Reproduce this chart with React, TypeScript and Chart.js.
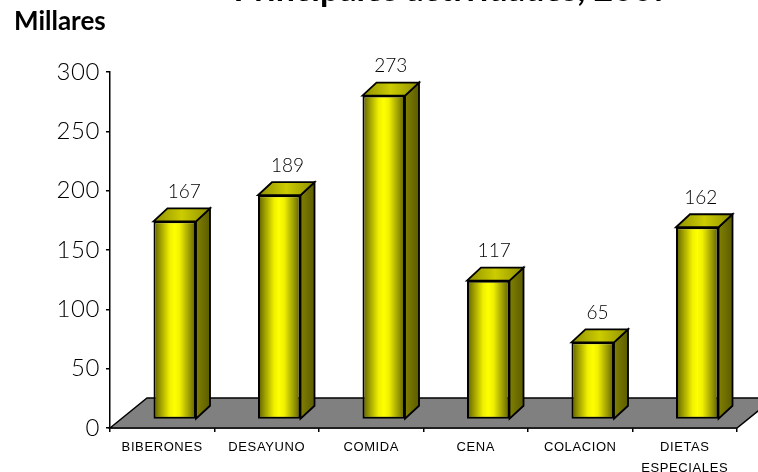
import React, { useEffect, useRef } from "react";
import { Chart, registerables } from "chart.js";

Chart.register(...registerables);

const categories: (string | string[])[] = ["BIBERONES", "DESAYUNO", "COMIDA", "CENA", "COLACION", ["DIETAS", "ESPECIALES"]];
const values = [167, 189, 273, 117, 65, 162];
const yTicks = [0, 50, 100, 150, 200, 250, 300];
const titleText = "Principales actividades, 2007";
const unitText = "Millares";

const GEOMETRIC = '"Lato", "Open Sans", sans-serif';
const BAR_DX = 12.5;
const BAR_DY = -8.5;
const DEPTH_X = 14;
const DEPTH_Y = 13;

function barGradient(ctx: CanvasRenderingContext2D, l: number, r: number) {
  const g = ctx.createLinearGradient(l, 0, r, 0);
  g.addColorStop(0, "#5c5c00");
  g.addColorStop(0.12, "#8c8c00");
  g.addColorStop(0.38, "#f0f000");
  g.addColorStop(0.5, "#ffff00");
  g.addColorStop(0.62, "#f0f000");
  g.addColorStop(0.88, "#8c8c00");
  g.addColorStop(1, "#5c5c00");
  return g;
}

const scene = {
  id: "scene",
  beforeDraw(chart: any) {
    chart.ctx.letterSpacing = "0.6px";
  },
  beforeDatasetsDraw(chart: any) {
    const { ctx, chartArea, scales } = chart;
    const y0 = scales.y.getPixelForValue(0);
    ctx.save();
    ctx.beginPath();
    ctx.moveTo(chartArea.left, y0);
    ctx.lineTo(chartArea.left + 37, y0 - 30);
    ctx.lineTo(chartArea.right + 37, y0 - 30);
    ctx.lineTo(chartArea.right, y0);
    ctx.closePath();
    ctx.fillStyle = "#808080";
    ctx.fill();
    ctx.lineWidth = 1.5;
    ctx.strokeStyle = "#000";
    ctx.stroke();
    ctx.restore();

    // side and top faces, from the bar elements
    const meta = chart.getDatasetMeta(0);
    ctx.save();
    ctx.translate(BAR_DX, BAR_DY);
    ctx.lineWidth = 1.8;
    ctx.strokeStyle = "#000";
    ctx.lineJoin = "miter";
    meta.data.forEach((bar: any) => {
      const l = bar.x - bar.width / 2;
      const r = bar.x + bar.width / 2;
      const t = bar.y;
      const b = bar.base;
      ctx.beginPath();
      ctx.moveTo(r, t);
      ctx.lineTo(r + DEPTH_X, t - DEPTH_Y);
      ctx.lineTo(r + DEPTH_X, b - DEPTH_Y);
      ctx.lineTo(r, b);
      ctx.closePath();
      const sg = ctx.createLinearGradient(r, 0, r + DEPTH_X, 0);
      sg.addColorStop(0, "#808000");
      sg.addColorStop(1, "#5c5c00");
      ctx.fillStyle = sg;
      ctx.fill();
      ctx.stroke();
      ctx.beginPath();
      ctx.moveTo(l, t);
      ctx.lineTo(l + DEPTH_X, t - DEPTH_Y);
      ctx.lineTo(r + DEPTH_X, t - DEPTH_Y);
      ctx.lineTo(r, t);
      ctx.closePath();
      const tg = ctx.createLinearGradient(l, 0, r + DEPTH_X, 0);
      tg.addColorStop(0, "#8f8f00");
      tg.addColorStop(0.5, "#cccc00");
      tg.addColorStop(1, "#8f8f00");
      ctx.fillStyle = tg;
      ctx.fill();
      ctx.stroke();
    });
    ctx.restore();
  },
  beforeDatasetDraw(chart: any) {
    chart.ctx.save();
    chart.ctx.translate(BAR_DX, BAR_DY);
  },
  afterDatasetDraw(chart: any) {
    chart.ctx.restore();
  },
  afterDraw(chart: any) {
    const { ctx } = chart;
    const meta = chart.getDatasetMeta(0);
    ctx.letterSpacing = "0px";
    ctx.save();
    ctx.fillStyle = "#000";
    ctx.textAlign = "center";
    ctx.textBaseline = "alphabetic";
    ctx.font = `300 19px ${GEOMETRIC}`;
    meta.data.forEach((bar: any, i: number) => {
      ctx.fillText(String(values[i]), bar.x + 22 - 1.2 * i, bar.y - 32);
    });
    ctx.font = `bold 34px ${GEOMETRIC}`;
    ctx.fillText(titleText, 453, 1);
    ctx.font = `bold 26px ${GEOMETRIC}`;
    ctx.textAlign = "left";
    ctx.fillText(unitText, 14, 29.5);
    ctx.restore();
  },
};

export default function App() {
  const ref = useRef<HTMLCanvasElement>(null);
  useEffect(() => {
    const chart = new Chart(ref.current!, {
      type: "bar",
      data: {
        labels: categories as any,
        datasets: [
          {
            data: values,
            barPercentage: 0.407,
            categoryPercentage: 1,
            borderColor: "#000",
            borderWidth: 2,
            borderSkipped: false,
            backgroundColor: (c: any) => {
              const xs = c.chart.scales.x;
              if (!xs || c.dataIndex === undefined) return "#ffff00";
              const cx = xs.getPixelForValue(c.dataIndex);
              if (!Number.isFinite(cx)) return "#ffff00";
              return barGradient(c.chart.ctx, cx - 21.25, cx + 21.25);
            },
          },
        ],
      },
      options: {
        responsive: false,
        animation: false,
        layout: { padding: { left: 0, right: 21, top: 72, bottom: 0 } },
        plugins: { legend: { display: false }, tooltip: { enabled: false } },
        scales: {
          x: {
            afterFit: (s: any) => {
              s.height = 44;
            },
            grid: { drawOnChartArea: false, color: "#000", lineWidth: 1.5, tickLength: 4 },
            border: { color: "#000", width: 1.5 },
            ticks: {
              color: "#000",
              maxRotation: 0,
              autoSkip: false,
              padding: 5,
              font: { family: '"Liberation Sans", Arial, sans-serif', size: 13, lineHeight: 1.6 },
            },
          },
          y: {
            min: 0,
            max: 300,
            afterBuildTicks: (s: any) => {
              s.ticks = yTicks.map((value) => ({ value }));
            },
            afterFit: (s: any) => {
              s.width = 110;
            },
            grid: { drawOnChartArea: false, color: "#000", lineWidth: 1.5, tickLength: 4 },
            border: { color: "#000", width: 1.5 },
            ticks: {
              color: "#000",
              padding: 6,
              font: { family: GEOMETRIC, size: 24, weight: 300 as any },
            },
          },
        },
      },
      plugins: [scene],
    });
    return () => chart.destroy();
  }, []);
  return <canvas ref={ref} width={758} height={472} style={{ position: "fixed", left: 0, top: 0, display: "block" }} />;
}
